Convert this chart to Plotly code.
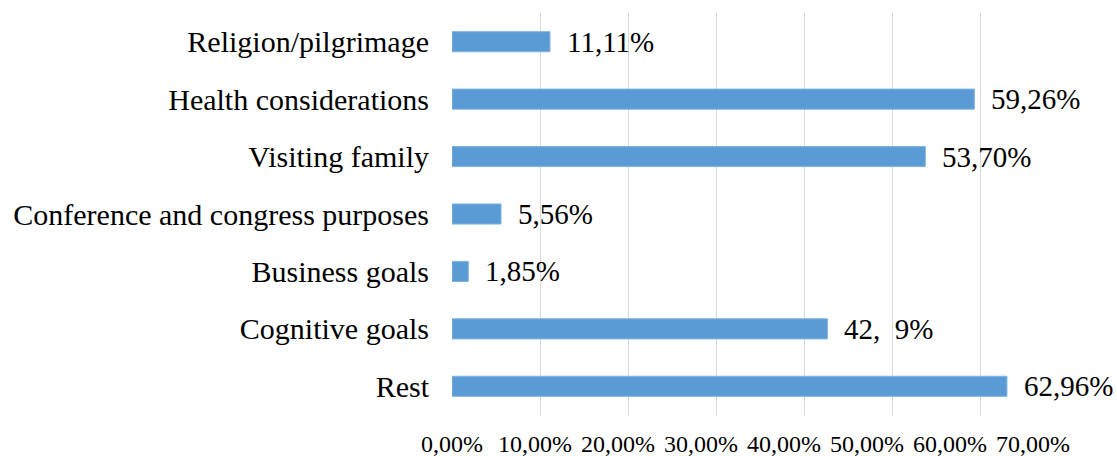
import plotly.graph_objects as go

# Purposes of travel, listed bottom-to-top as on the axis
categories = [
    "Rest",
    "Cognitive goals",
    "Business goals",
    "Conference and congress purposes",
    "Visiting family",
    "Health considerations",
    "Religion/pilgrimage",
]
shares = [62.96, 42.59, 1.85, 5.56, 53.70, 59.26, 11.11]
share_labels = ["62,96%", "42,\u00a0\u00a09%", "1,85%", "5,56%", "53,70%", "59,26%", "11,11%"]

tick_values = [0, 10, 20, 30, 40, 50, 60, 70]
tick_labels = ["0,00%", "10,00%", "20,00%", "30,00%", "40,00%", "50,00%", "60,00%", "70,00%"]

SERIF = "Liberation Serif, Times New Roman, serif"
BAR_COLOR = "#5B9BD5"
GRID_COLOR = "#D9D9D9"

fig = go.Figure()
fig.add_trace(go.Bar(
    x=shares,
    y=categories,
    orientation="h",
    marker=dict(color=BAR_COLOR, line=dict(color="#7FB2E0", width=1)),
    hoverinfo="skip",
))

# Invisible carrier for the secondary axis that holds the percentage tick labels
fig.add_trace(go.Scatter(
    x=[0], y=[categories[0]], xaxis="x2", mode="markers",
    marker=dict(opacity=0), hoverinfo="skip", showlegend=False,
))

for cat, val, txt in zip(categories, shares, share_labels):
    fig.add_annotation(
        x=val, y=cat, text=txt, showarrow=False,
        xanchor="left", yanchor="middle", xshift=15,
        font=dict(family=SERIF, size=29, color="#000000"),
    )

fig.update_layout(
    width=1117,
    height=456,
    margin=dict(l=452, r=48, t=13, b=41),
    paper_bgcolor="white",
    plot_bgcolor="white",
    showlegend=False,
    bargap=0.65,
    xaxis=dict(
        range=[0, 70],
        tickvals=tick_values,
        showticklabels=False,
        showgrid=True,
        gridcolor=GRID_COLOR,
        gridwidth=1,
        zeroline=False,
        showline=False,
        ticks="",
        automargin=False,
        fixedrange=True,
    ),
    xaxis2=dict(
        overlaying="x",
        anchor="y",
        side="bottom",
        range=[0, 74.34],
        tickvals=tick_values,
        ticktext=tick_labels,
        showgrid=False,
        zeroline=False,
        showline=False,
        ticks="",
        ticklabelstandoff=12,
        tickfont=dict(family=SERIF, size=24, color="#000000"),
        automargin=False,
        fixedrange=True,
    ),
    yaxis=dict(
        showgrid=False,
        zeroline=False,
        showline=False,
        ticks="",
        ticklabelstandoff=22,
        tickfont=dict(family=SERIF, size=30, color="#000000"),
        automargin=False,
        fixedrange=True,
    ),
)

fig.write_html("out.html")
